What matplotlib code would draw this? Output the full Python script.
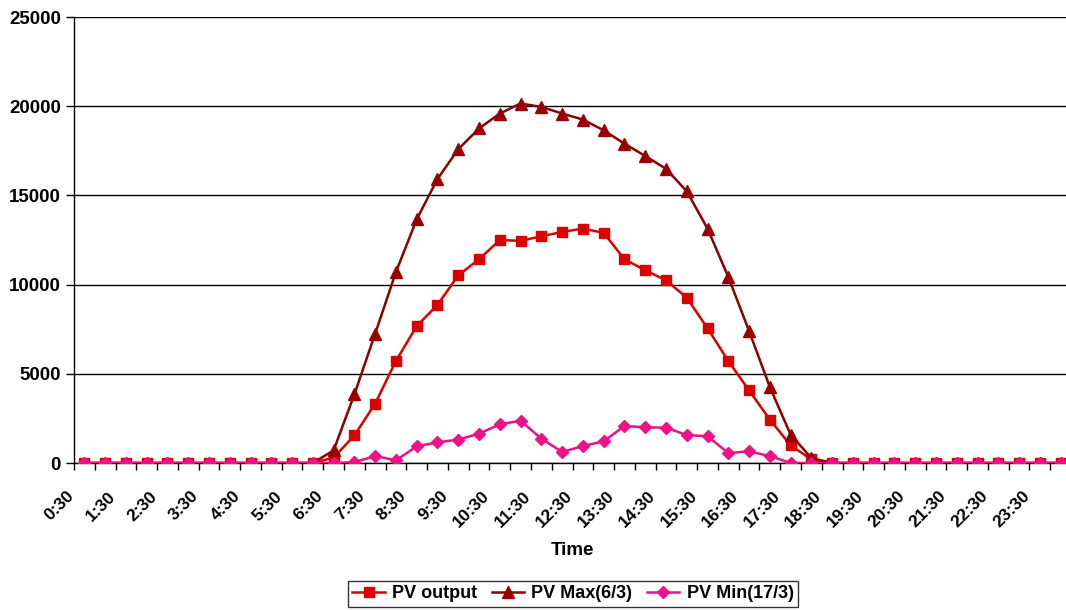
import matplotlib
matplotlib.use("Agg")
import matplotlib.pyplot as plt
from matplotlib.ticker import FixedLocator, MultipleLocator
import matplotlib.transforms as mtransforms

plt.rcParams['font.family'] = ['Liberation Sans', 'DejaVu Sans']

times = ["0:30", "1:00", "1:30", "2:00", "2:30", "3:00", "3:30", "4:00",
         "4:30", "5:00", "5:30", "6:00", "6:30", "7:00", "7:30", "8:00",
         "8:30", "9:00", "9:30", "10:00", "10:30", "11:00", "11:30", "12:00",
         "12:30", "13:00", "13:30", "14:00", "14:30", "15:00", "15:30", "16:00",
         "16:30", "17:00", "17:30", "18:00", "18:30", "19:00", "19:30", "20:00",
         "20:30", "21:00", "21:30", "22:00", "22:30", "23:00", "23:30", "24:00"]

pv_output = [0, 0, 0, 0, 0, 0, 0, 0, 0, 0, 0, 0,
             300, 1550, 3330, 5720, 7680, 8860, 10520, 11420, 12500, 12450,
             12710, 12950, 13140, 12900, 11420, 10800, 10240, 9270, 7550, 5720,
             4070, 2430, 990, 200,
             0, 0, 0, 0, 0, 0, 0, 0, 0, 0, 0, 0]

pv_max = [0, 0, 0, 0, 0, 0, 0, 0, 0, 0, 0, 0,
          710, 3850, 7250, 10710, 13660, 15920, 17590, 18750, 19590, 20150,
          19960, 19590, 19250, 18650, 17900, 17210, 16490, 15230, 13140, 10430,
          7400, 4260, 1590, 280,
          0, 0, 0, 0, 0, 0, 0, 0, 0, 0, 0, 0]

pv_min = [0, 0, 0, 0, 0, 0, 0, 0, 0, 0, 0, 0,
          0, 50, 390, 150, 935, 1160, 1310, 1645, 2170, 2370,
          1360, 620, 950, 1215, 2075, 2000, 1980, 1570, 1495, 560,
          650, 390, 0, 0,
          0, 0, 0, 0, 0, 0, 0, 0, 0, 0, 0, 0]

series_names = ["PV output", "PV Max(6/3)", "PV Min(17/3)"]

W, H = 1066, 610
fig = plt.figure(figsize=(W / 100, H / 100), dpi=100)
left, right, top, bottom = 74, 1071, 17, 463
ax = fig.add_axes([left / W, 1 - bottom / H, (right - left) / W, (bottom - top) / H])

x = list(range(len(times)))
ax.plot(x, pv_output, color="#DD0000", lw=1.8, marker="s", ms=7.5,
        mfc="#DD0000", mec="#DD0000", label=series_names[0], zorder=3)
ax.plot(x, pv_max, color="#8B0000", lw=1.8, marker="^", ms=8,
        mfc="#990000", mec="#990000", label=series_names[1], zorder=4)
ax.plot(x, pv_min, color="#EE1188", lw=1.8, marker="D", ms=6,
        mfc="#EE1188", mec="#EE1188", label=series_names[2], zorder=5)

ax.set_xlim(-0.5, len(times) - 0.5)
ax.set_ylim(0, 25000)
ax.yaxis.set_major_locator(MultipleLocator(5000))
ax.grid(axis="y", color="black", lw=1)
ax.set_axisbelow(True)

major = list(range(0, len(times), 2))
ax.xaxis.set_major_locator(FixedLocator(major))
ax.set_xticklabels([times[i] for i in major], rotation=45, ha="right",
                   rotation_mode="anchor", fontsize=12.5, fontweight="bold")
ax.xaxis.set_minor_locator(FixedLocator([i - 0.5 for i in range(len(times) + 1)]))
ax.tick_params(axis="x", which="major", length=0, pad=14)
ax.tick_params(axis="x", which="minor", length=5, width=1, color="black")
ax.tick_params(axis="y", length=6, width=1, labelsize=13.5)
for lab in ax.get_yticklabels():
    lab.set_fontweight("bold")

offset = mtransforms.ScaledTranslation(-18 / 100, -6 / 100, fig.dpi_scale_trans)
for lab in ax.get_xticklabels():
    lab.set_transform(lab.get_transform() + offset)

for s in ["top", "right"]:
    ax.spines[s].set_visible(False)
ax.spines["left"].set_linewidth(1)
ax.spines["bottom"].set_linewidth(1)

ax.set_xlabel("Time", fontsize=13.5, fontweight="bold", labelpad=8)

leg = fig.legend(loc="center", bbox_to_anchor=(573 / W, 1 - 594 / H), ncol=3,
                 frameon=True, fancybox=False, edgecolor="black",
                 prop={"size": 13, "weight": "bold"}, handlelength=1.8,
                 columnspacing=0.8, handletextpad=0.4, borderpad=0.25)
leg.get_frame().set_linewidth(1)

fig.savefig("out.png", dpi=100)
